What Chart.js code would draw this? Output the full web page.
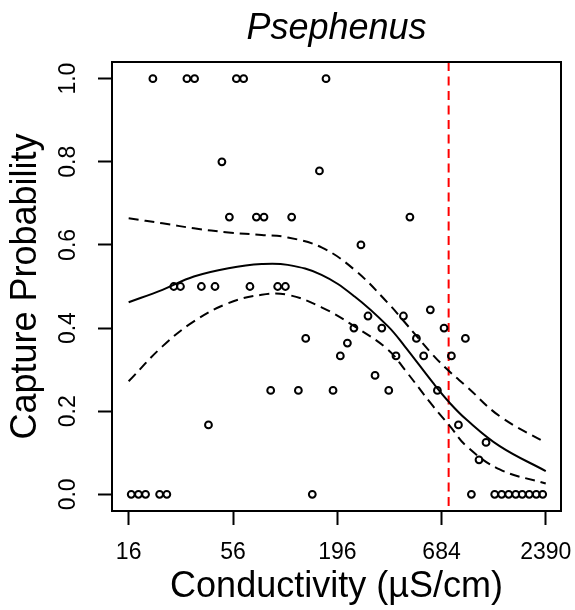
<!DOCTYPE html>
<html>
<head>
<meta charset="utf-8">
<script src="https://cdn.jsdelivr.net/npm/chart.js@4.4.1/dist/chart.umd.min.js"></script>
<style>
  html, body { margin: 0; padding: 0; background: #fff; }
  canvas { display: block; }
</style>
</head>
<body>
<canvas id="myChart" width="575" height="610"></canvas>
<script>
// observed capture probabilities by site conductivity
var conductivity = [
  21.4, 32.2, 35.3, 58.3, 63.6, 171,
  49.0, 158,
  53.6, 74.1, 81.2, 113.2, 468,
  260,
  27.5, 29.8, 38.3, 45.1, 68.6, 95.7, 105,
  598, 283, 433,
  239, 334, 705,
  134, 506, 911,
  221,
  203, 396, 552, 770,
  308,
  88, 122.7, 186, 363, 651,
  41.7, 838,
  1167, 1073,
  16.5, 18.0, 19.6, 23.2, 25.3, 145, 979,
  1295, 1408, 1532, 1667, 1802, 1960, 2132, 2304
];
var captureProb = [
  1, 1, 1, 1, 1, 1,
  0.8, 0.778,
  0.667, 0.667, 0.667, 0.667, 0.667,
  0.6,
  0.5, 0.5, 0.5, 0.5, 0.5, 0.5, 0.5,
  0.444, 0.429, 0.429,
  0.4, 0.4, 0.4,
  0.375, 0.375, 0.375,
  0.364,
  0.333, 0.333, 0.333, 0.333,
  0.286,
  0.25, 0.25, 0.25, 0.25, 0.25,
  0.167, 0.167,
  0.125, 0.083,
  0, 0, 0, 0, 0, 0, 0,
  0, 0, 0, 0, 0, 0, 0, 0
];

// fitted curve and confidence band
var curveX = [16, 24, 35, 53, 79, 108, 162, 241, 360, 440, 618, 755, 922, 1375, 2390];
var fitY   = [0.462, 0.492, 0.524, 0.544, 0.554, 0.552, 0.528, 0.476, 0.404, 0.356, 0.268, 0.22, 0.18, 0.116, 0.056];
var upperY = [0.664, 0.652, 0.640, 0.630, 0.624, 0.618, 0.594, 0.540, 0.460, 0.414, 0.335, 0.295, 0.26, 0.188, 0.124];
var lowerY = [0.272, 0.356, 0.416, 0.460, 0.480, 0.480, 0.450, 0.404, 0.348, 0.300, 0.212, 0.165, 0.116, 0.060, 0.026];

var threshold = 745;
var xTicks = [16, 56, 196, 684, 2390];
var yTicks = [0, 0.2, 0.4, 0.6, 0.8, 1.0];

function toPoints(xs, ys) {
  return xs.map(function(x, i) {
    return { x: x, y: ys[i] };
  });
}

Chart.defaults.font.family = "'Liberation Sans', Arial, sans-serif";
Chart.defaults.color = '#000';

var boxPlugin = {
  id: 'box',
  afterDraw: function(chart) {
    var a = chart.chartArea;
    var ctx = chart.ctx;
    ctx.save();
    ctx.strokeStyle = '#000';
    ctx.lineWidth = 2;
    ctx.strokeRect(a.left, a.top, a.right - a.left, a.bottom - a.top);
    ctx.restore();
  }
};

var bandStyle = {
  type: 'line',
  borderColor: '#000',
  borderWidth: 2,
  borderDash: [10, 6],
  pointRadius: 0,
  fill: false,
  tension: 0.4
};

var ctx = document.getElementById('myChart').getContext('2d');
var myChart = new Chart(ctx, {
  type: 'scatter',
  data: {
    datasets: [
      {
        label: 'observed',
        data: toPoints(conductivity, captureProb),
        pointStyle: 'circle',
        pointRadius: 3.4,
        borderWidth: 2,
        borderColor: '#000',
        backgroundColor: 'rgba(0,0,0,0)'
      },
      {
        label: 'fit',
        type: 'line',
        data: toPoints(curveX, fitY),
        borderColor: '#000',
        borderWidth: 2,
        pointRadius: 0,
        fill: false,
        tension: 0.4
      },
      Object.assign({ label: 'upper', data: toPoints(curveX, upperY) }, bandStyle),
      Object.assign({ label: 'lower', data: toPoints(curveX, lowerY) }, bandStyle),
      {
        label: 'threshold',
        type: 'line',
        data: [{ x: threshold, y: 1.04 }, { x: threshold, y: -0.04 }],
        borderColor: '#ff0000',
        borderWidth: 2,
        borderDash: [9, 5.5],
        pointRadius: 0,
        fill: false
      }
    ]
  },
  options: {
    responsive: false,
    animation: false,
    devicePixelRatio: 1,
    layout: { padding: { left: 0, right: 14, top: 0, bottom: 0 } },
    plugins: {
      legend: { display: false },
      tooltip: { enabled: false },
      title: {
        display: true,
        text: 'Psephenus',
        fullSize: false,
        color: '#000',
        font: { size: 36, style: 'italic', weight: 'normal' },
        padding: { top: 7, bottom: 11.8 }
      }
    },
    scales: {
      x: {
        type: 'logarithmic',
        min: 13.1,
        max: 2870,
        afterBuildTicks: function(scale) {
          scale.ticks = xTicks.map(function(v) { return { value: v }; });
        },
        afterFit: function(scale) {
          scale.height = 99;
          scale.paddingLeft = 0;
          scale.paddingRight = 0;
        },
        grid: {
          drawOnChartArea: false,
          drawTicks: true,
          tickLength: 14,
          tickWidth: 2,
          tickColor: '#000'
        },
        border: { display: false },
        ticks: {
          autoSkip: false,
          maxRotation: 0,
          padding: 14,
          color: '#000',
          font: { size: 23 },
          callback: function(value) { return String(value); }
        },
        title: {
          display: true,
          text: 'Conductivity (µS/cm)',
          color: '#000',
          font: { size: 36 },
          padding: { top: 0, bottom: 1 }
        }
      },
      y: {
        type: 'linear',
        min: -0.04,
        max: 1.04,
        afterBuildTicks: function(scale) {
          scale.ticks = yTicks.map(function(v) { return { value: v }; });
        },
        afterFit: function(scale) {
          scale.width = 112;
          scale.paddingTop = 0;
          scale.paddingBottom = 0;
        },
        grid: {
          drawOnChartArea: false,
          drawTicks: true,
          tickLength: 14,
          tickWidth: 2,
          tickColor: '#000'
        },
        border: { display: false },
        ticks: {
          minRotation: 90,
          maxRotation: 90,
          crossAlign: 'center',
          padding: 13,
          color: '#000',
          font: { size: 23 },
          callback: function(value) { return Number(value).toFixed(1); }
        },
        title: {
          display: true,
          text: 'Capture Probability',
          color: '#000',
          font: { size: 36 },
          padding: { top: 4.5, bottom: 0 }
        }
      }
    }
  },
  plugins: [boxPlugin]
});
</script>
</body>
</html>
